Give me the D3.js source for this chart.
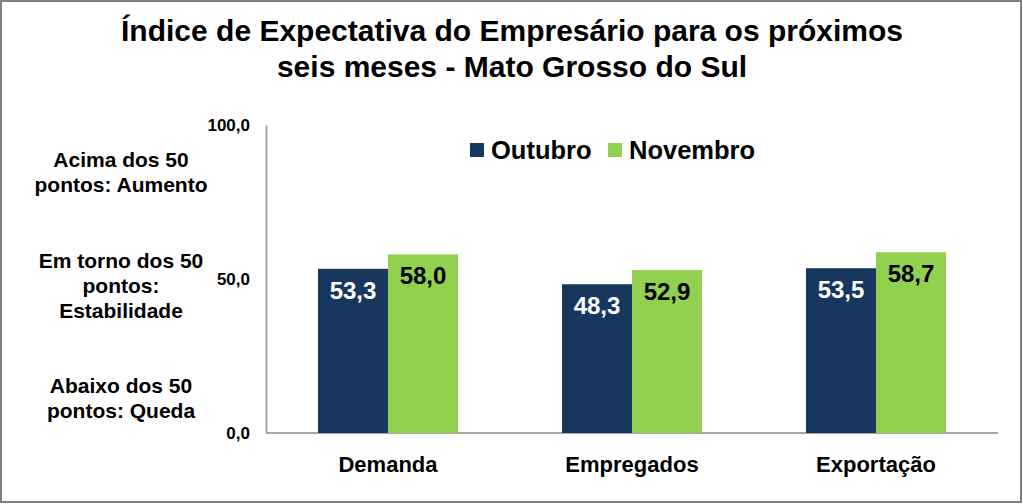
<!DOCTYPE html>
<html>
<head>
<meta charset="utf-8">
<script src="https://cdn.jsdelivr.net/npm/d3@7"></script>
<style>
  body { margin: 0; background: #fff; }
  text { font-family: "Liberation Sans", Arial, sans-serif; font-weight: bold; }
</style>
</head>
<body>
<div id="chart"></div>
<script>
//data
var categories = ["Demanda", "Empregados", "Exportação"];
var seriesNames = ["Outubro", "Novembro"];
var outubro = [53.3, 48.3, 53.5];
var novembro = [58.0, 52.9, 58.7];
var yTicks = [0, 50, 100];
var titleLines = ["Índice de Expectativa do Empresário para os próximos", "seis meses - Mato Grosso do Sul"];
var notes = [
  ["Acima dos 50", "pontos: Aumento"],
  ["Em torno dos 50", "pontos:", "Estabilidade"],
  ["Abaixo dos 50", "pontos: Queda"]
];

var W = 1023, H = 504;
var colors = ["#17375E", "#92D050"];

var svg = d3.select("#chart").append("svg")
  .attr("width", W).attr("height", H);

//outer frame
svg.append("rect")
  .attr("x", 1).attr("y", 1).attr("width", W - 3).attr("height", H - 3)
  .attr("fill", "#fff").attr("stroke", "#808080").attr("stroke-width", 2);

//title
svg.selectAll(".title").data(titleLines).enter().append("text")
  .attr("x", 512).attr("y", function(d, i) { return 41 + i * 36; })
  .attr("text-anchor", "middle").style("font-size", "30px").text(function(d) { return d; });

//scales
var x0 = d3.scaleBand().domain(categories).range([266, 998]);
var x1 = d3.scaleBand().domain(seriesNames).range([52, 192]);
var y = d3.scaleLinear().domain([0, 100]).range([433, 125]);

//y axis
var yAxis = svg.append("g").attr("transform", "translate(266,0)")
  .call(d3.axisLeft(y).tickValues(yTicks).tickSize(0).tickPadding(16)
    .tickFormat(function(d) { return d3.format(".1f")(d).replace(".", ","); }));
yAxis.select(".domain").attr("stroke", "#A6A6A6").attr("stroke-width", 2);
yAxis.selectAll("text").style("font-size", "17px").attr("fill", "#000")
  .style("font-family", "Liberation Sans, Arial, sans-serif");

//baseline
svg.append("line")
  .attr("x1", 266).attr("x2", 998).attr("y1", y(0)).attr("y2", y(0))
  .attr("stroke", "#A6A6A6").attr("stroke-width", 2);

//bars
var rows = categories.map(function(c, i) {
  return { cat: c, vals: [{ s: seriesNames[0], v: outubro[i] }, { s: seriesNames[1], v: novembro[i] }] };
});

var groups = svg.selectAll(".grp").data(rows).enter().append("g")
  .attr("transform", function(d) { return "translate(" + x0(d.cat) + ",0)"; });

groups.selectAll("rect").data(function(d) { return d.vals; }).enter().append("rect")
  .attr("x", function(d) { return x1(d.s); })
  .attr("width", x1.bandwidth())
  .attr("y", function(d) { return y(d.v); })
  .attr("height", function(d) { return y(0) - y(d.v); })
  .attr("fill", function(d, i) { return colors[i]; });

groups.selectAll(".val").data(function(d) { return d.vals; }).enter().append("text")
  .attr("x", function(d) { return x1(d.s) + x1.bandwidth() / 2; })
  .attr("y", function(d) { return y(d.v) + 30; })
  .attr("text-anchor", "middle").style("font-size", "24px")
  .attr("fill", function(d, i) { return i === 0 ? "#fff" : "#000"; })
  .text(function(d) { return d3.format(".1f")(d.v).replace(".", ","); });

//category labels
svg.selectAll(".cat").data(categories).enter().append("text")
  .attr("x", function(d) { return x0(d) + x0.bandwidth() / 2; })
  .attr("y", 472).attr("text-anchor", "middle").style("font-size", "22px")
  .text(function(d) { return d; });

//legend
var legendX = [470, 608];
var leg = svg.selectAll(".leg").data(seriesNames).enter().append("g")
  .attr("transform", function(d, i) { return "translate(" + legendX[i] + ",143)"; });
leg.append("rect").attr("width", 14).attr("height", 14)
  .attr("fill", function(d, i) { return colors[i]; });
leg.append("text").attr("x", 21).attr("y", 16).style("font-size", "25.5px")
  .text(function(d) { return d; });

//side notes
var noteY = [167, 268, 393];
notes.forEach(function(lines, k) {
  svg.selectAll(".note" + k).data(lines).enter().append("text")
    .attr("x", 121).attr("y", function(d, i) { return noteY[k] + i * 25; })
    .attr("text-anchor", "middle").style("font-size", "21px")
    .text(function(d) { return d; });
});
</script>
</body>
</html>
